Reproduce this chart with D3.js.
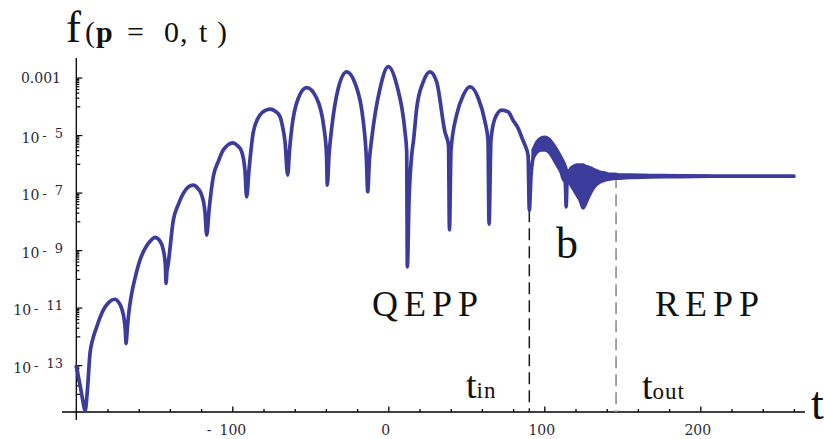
<!DOCTYPE html>
<html>
<head>
<meta charset="utf-8">
<script src="https://cdn.jsdelivr.net/npm/d3@7"></script>
<style>
  html, body { margin: 0; padding: 0; background: #fff; }
  svg { display: block; }
</style>
</head>
<body>
<svg id="chart" width="824" height="439"></svg>
<script>
// f(p = 0, t) on a log scale: time samples and log10 of the value
const tMain = [
  -200, -197.6, -195.6, -194.4, -193.0, -191.2, -189.3, -186.9, -184.8, -182.7,
  -179.0, -175.2, -172.8, -170.9, -169.1, -168.6, -168.1, -167.4, -166.5, -164.5,
  -162.0, -159.2, -154.7, -152.0, -149.6, -146.3, -144.2, -142.9, -142.5, -141.9,
  -141.2, -137.8, -134.5, -131.4, -128.0, -125.0, -122.0, -119.6, -117.5, -116.4,
  -114.9, -112.2, -109.0, -105.8, -102.8, -99.7, -96.8, -94.0, -91.9, -90.8,
  -89.3, -86.5, -82.2, -79.0, -75.8, -72.5, -69.4, -67.8, -66.2, -64.5,
  -63.3, -61.9, -57.7, -52.3, -45.9, -41.2, -39.6, -39.1, -38.0, -36.3,
  -32.1, -26.7, -21.3, -16.0, -14.0, -13.2, -12.1, -10.6, -5.3, 0,
  5.4, 10.7, 11.8, 12.2, 13.3, 15.0, 16.2, 18.2, 22.4, 26.7,
  31.0, 36.3, 38.6, 39.2, 40.2, 43.8, 48.1, 52.4, 57.7, 62.0,
  63.9, 64.6, 65.8, 68.4, 72.7, 76.9, 79.9, 83.3, 85.7, 87.6,
  89.6, 90.4, 91.5, 93.5, 97.9, 100.4, 103.0, 105.6, 108.1, 110.7,
  112.6, 113.6, 114.0, 114.6, 115.2, 117.1, 119.0, 121.0, 122.9, 124.9,
  126.1, 128.1, 130.0, 132.5, 135.7, 140.0, 146.0, 150.0, 200.0, 260.0
];
const logF = [
  -13.05, -13.70, -14.30, -14.60, -13.95, -12.58, -12.07, -11.67, -11.35, -11.09,
  -10.81, -10.71, -10.82, -11.03, -11.50, -11.78, -12.25, -11.80, -11.26, -10.51,
  -9.90, -9.35, -8.83, -8.65, -8.56, -8.69, -9.00, -9.52, -10.16, -9.75,
  -9.52, -7.96, -7.40, -7.03, -6.80, -6.74, -6.86, -7.09, -7.68, -8.48,
  -7.61, -6.45, -5.92, -5.52, -5.34, -5.27, -5.36, -5.58, -6.22, -7.15,
  -6.22, -4.89, -4.30, -4.15, -4.10, -4.17, -4.36, -4.70, -5.23, -6.39,
  -5.52, -4.77, -3.72, -3.35, -3.72, -4.77, -5.70, -6.74, -5.70, -4.77,
  -3.38, -2.80, -3.20, -4.54, -5.87, -6.97, -5.87, -5.11, -3.38, -2.62,
  -3.26, -4.89, -5.58, -9.58, -7.26, -5.70, -5.17, -4.07, -3.15, -2.80,
  -3.15, -4.89, -5.35, -8.30, -5.52, -4.30, -3.61, -3.32, -3.72, -4.54,
  -5.17, -8.10, -5.17, -4.42, -4.13, -4.19, -4.48, -4.77, -5.10, -5.35,
  -5.70, -7.61, -6.39, -5.65, -5.30, -5.28, -5.36, -5.55, -5.78, -6.02,
  -6.25, -6.80, -7.50, -6.60, -6.43, -6.43, -6.45, -6.50, -6.60, -6.70,
  -6.65, -6.60, -6.55, -6.50, -6.46, -6.44, -6.43, -6.43, -6.43, -6.43
];

// envelope of the fast oscillations between t_in and t_out (log10 values)
const tBand = [
  92.8, 95.3, 97.9, 100.4, 103.0, 105.6, 108.1, 110.7, 112.6,
  115.2, 117.1, 119.0, 121.0, 122.9, 124.9, 126.1, 128.1, 130.0,
  132.5, 135.7, 138.9, 142.1, 145.3, 148.5, 154.9, 167.8, 187.0, 206.2
];
const bandHi = [
  -5.52, -5.24, -5.10, -5.07, -5.14, -5.31, -5.52, -5.77, -5.97,
  -6.29, -6.15, -6.08, -6.04, -6.04, -6.04, -6.08, -6.11, -6.15,
  -6.22, -6.29, -6.32, -6.36, -6.36, -6.39, -6.39, -6.40, -6.41, -6.43
];
const bandLo = [
  -5.80, -5.59, -5.52, -5.52, -5.59, -5.80, -6.04, -6.29, -6.57,
  -6.57, -6.74, -6.91, -7.09, -7.26, -7.54, -7.43, -7.19, -6.98,
  -6.77, -6.63, -6.57, -6.53, -6.50, -6.50, -6.48, -6.46, -6.45, -6.43
];

// axis ticks
const xMajorTicks = [-100, 0, 100, 200];
const xTickLabels = ["-", "0", "100", "200"];
const xNegPart = ["100", "", "", ""];
const xMinorTicks = [-180, -160, -140, -120, -80, -60, -40, -20, 20, 40, 60, 80, 120, 140, 160, 180, 220, 240, 260];
const yMajorExp = [-3, -5, -7, -9, -11, -13];
const yTickBase = ["0.001", "10", "10", "10", "10", "10"];
const yTickSup = ["", "5", "7", "9", "11", "13"];

// boundary times and region names
const markerTimes = [90.4, 146.0];
const markerSubs = ["in", "out"];
const regionNames = ["QEPP", "REPP", "b"];

const curveColor = "#3c3c9c";
const svg = d3.select("#chart");

const x = d3.scaleLinear().domain([-200, 260]).range([76.3, 793.9]);
const y = d3.scaleLog().domain([Math.pow(10, -14.63), Math.pow(10, -2.32)]).range([412, 58]);

const pts = tMain.map((t, i) => ({ t, f: Math.pow(10, logF[i]) }));
const band = tBand.map((t, i) => ({ t, hi: Math.pow(10, bandHi[i]), lo: Math.pow(10, bandLo[i]) }));

// ---- axes ----
const axes = svg.append("g");
axes.append("line").attr("x1", 62).attr("x2", 805).attr("y1", 412).attr("y2", 412)
  .attr("stroke", "#000").attr("stroke-width", 1.3);
axes.append("line").attr("x1", x(-200)).attr("x2", x(-200)).attr("y1", 58).attr("y2", 420)
  .attr("stroke", "#000").attr("stroke-width", 1.3);

const gxMinor = axes.append("g").attr("transform", "translate(0,412)")
  .call(d3.axisBottom(x).tickValues(xMinorTicks).tickSize(-3).tickFormat(""));
const gxMajor = axes.append("g").attr("transform", "translate(0,412)")
  .call(d3.axisBottom(x).tickValues(xMajorTicks).tickSize(-5.5).tickFormat(""));
[gxMinor, gxMajor].forEach(g => {
  g.select(".domain").remove();
  g.selectAll(".tick line").attr("stroke", "#000").attr("stroke-width", 1.3);
});

// y ticks: labelled decades plus the decade below each one
const yMinor = [], yMid = [];
yMajorExp.forEach(e => {
  for (let k = 2; k <= 9; k++) yMinor.push(k * Math.pow(10, e - 1));
  yMid.push(Math.pow(10, e - 1));
});
const yAxisPos = x(-200);
[[yMinor, -3], [yMid, -4], [yMajorExp.map(e => Math.pow(10, e)), -6]].forEach(([vals, size]) => {
  const g = axes.append("g").attr("transform", `translate(${yAxisPos},0)`)
    .call(d3.axisLeft(y).tickValues(vals).tickSize(size).tickFormat(""));
  g.select(".domain").remove();
  g.selectAll(".tick line").attr("stroke", "#000").attr("stroke-width", 1.2);
});

// x tick labels
const labelFont = "'DejaVu Serif', serif";
xMajorTicks.forEach((v, i) => {
  const tx = svg.append("text")
    .attr("y", 435)
    .attr("font-family", labelFont).attr("font-size", 14).attr("fill", "#2a2a35");
  if (xNegPart[i]) {
    tx.attr("x", x(v) - 25.5).attr("text-anchor", "start");
    tx.append("tspan").text(xTickLabels[i]);
    tx.append("tspan").attr("dx", 8).text(xNegPart[i]);
  } else {
    tx.attr("x", x(v) - 2.5).attr("text-anchor", "middle").text(xTickLabels[i]);
  }
});

// y tick labels
yMajorExp.forEach((e, i) => {
  const yy = y(Math.pow(10, e));
  const tx = svg.append("text")
    .attr("x", 63).attr("text-anchor", "end")
    .attr("font-family", labelFont).attr("font-size", 14).attr("fill", "#2a2a35");
  if (!yTickSup[i]) {
    tx.attr("x", 61).attr("y", yy + 5.5).text(yTickBase[i]);
  } else {
    tx.attr("y", yy + 7.5);
    tx.append("tspan").text(yTickBase[i]);
    tx.append("tspan").attr("dx", 3).attr("dy", -2.5).attr("font-size", 13).text("-");
    tx.append("tspan").attr("dx", 8).attr("dy", -2.5).attr("font-size", 13).text(yTickSup[i]);
  }
});

// ---- boundary markers ----
markerTimes.forEach((t, i) => {
  const idx = tMain.indexOf(t);
  svg.append("line")
    .attr("x1", x(t)).attr("x2", x(t))
    .attr("y1", y(pts[idx].f)).attr("y2", 412)
    .attr("stroke", i === 0 ? "#1a1a1a" : "#9a9a9a")
    .attr("stroke-width", i === 0 ? 1.5 : 1.8)
    .attr("stroke-dasharray", "12,6");
});

// ---- curve ----
svg.append("path")
  .datum(band)
  .attr("d", d3.area().x(d => x(d.t)).y0(d => y(d.lo)).y1(d => y(d.hi)).curve(d3.curveMonotoneX))
  .attr("fill", curveColor).attr("stroke", curveColor).attr("stroke-width", 3.4)
  .attr("stroke-linejoin", "round");

svg.append("path")
  .datum(pts)
  .attr("d", d3.line().x(d => x(d.t)).y(d => y(d.f)).curve(d3.curveMonotoneX))
  .attr("fill", "none").attr("stroke", curveColor).attr("stroke-width", 3.7)
  .attr("stroke-linejoin", "round").attr("stroke-linecap", "round");

// ---- annotations ----
const serif = "'Liberation Serif', 'Times New Roman', serif";

// title f(p = 0, t)
const title = svg.append("text").attr("y", 42).attr("font-family", serif).attr("fill", "#111");
title.append("tspan").attr("x", 66).attr("font-size", 45).text("f");
[["(", 85, false], ["p", 96, true], ["=", 127, false], ["0", 164, false], [",", 180, false], ["t", 199, false], [")", 217, false]]
  .forEach(([s, px, bold]) => {
    title.append("tspan").attr("x", px).attr("font-size", 30)
      .attr("font-weight", bold ? "bold" : "normal").text(s);
  });

// axis name
svg.append("text").attr("x", 811).attr("y", 419)
  .attr("font-family", serif).attr("font-size", 46).attr("fill", "#111").text("t");

// region names
[[regionNames[0], 372, 316, 36, 6], [regionNames[1], 655, 316, 36, 6], [regionNames[2], 556, 258, 44, 0]]
  .forEach(([s, px, py, fs, ls]) => {
    svg.append("text").attr("x", px).attr("y", py)
      .attr("font-family", serif).attr("font-size", fs).attr("letter-spacing", ls)
      .attr("fill", "#111").text(s);
  });

// t_in / t_out labels
[[466, 398], [642, 399]].forEach(([px, py], i) => {
  const tx = svg.append("text").attr("x", px).attr("y", py)
    .attr("font-family", serif).attr("fill", "#111");
  tx.append("tspan").attr("font-size", 38).text("t");
  tx.append("tspan").attr("font-size", 23).attr("letter-spacing", 1).text(markerSubs[i]);
});
</script>
</body>
</html>
